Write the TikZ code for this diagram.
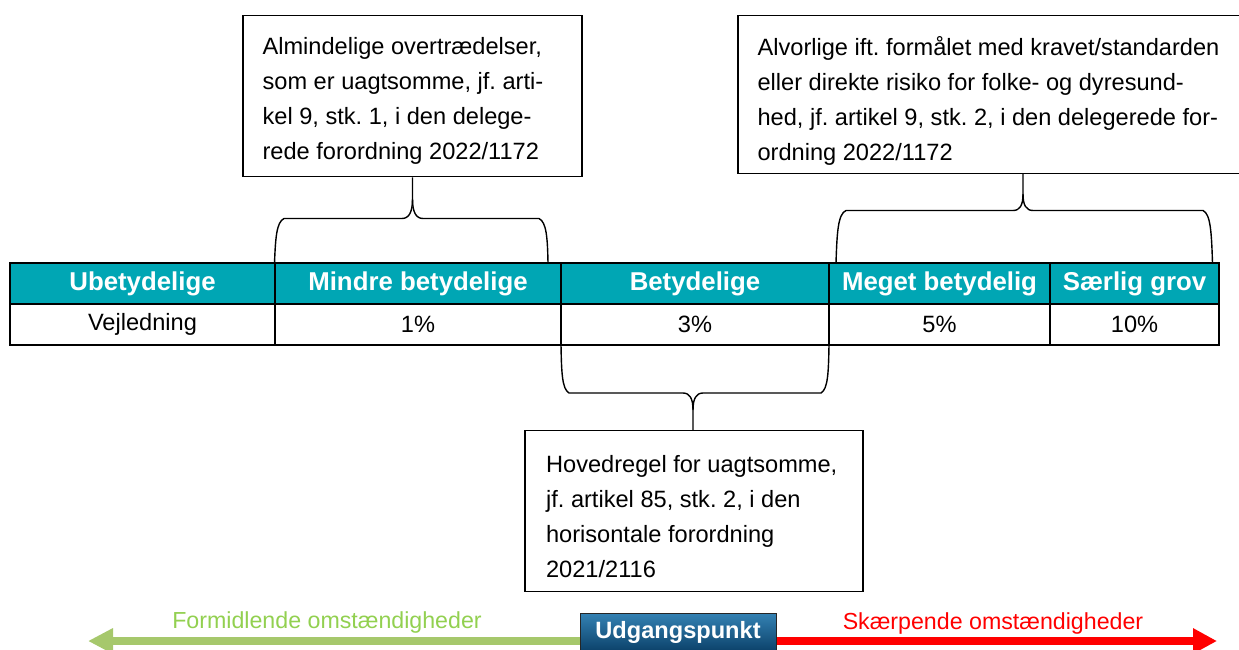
\documentclass[tikz,border=0pt]{standalone}
\usepackage{fontspec}
\setmainfont{Liberation Sans}
\usetikzlibrary{arrows.meta,calc}
\definecolor{tealhdr}{RGB}{0,166,180}
\definecolor{txtgreen}{RGB}{146,208,80}
\definecolor{arrgreen}{RGB}{166,200,108}
\definecolor{arrred}{RGB}{255,0,0}
\definecolor{btntop}{RGB}{52,130,180}
\definecolor{btnbot}{RGB}{12,66,106}
\frenchspacing
\begin{document}
\begin{tikzpicture}[x=1pt,y=-1pt,
  hdr/.style={draw=black, line width=2pt, fill=tealhdr, text=white,
    font=\bfseries\fontsize{25.8}{28}\selectfont, minimum height=41pt, inner sep=0pt},
  cellbox/.style={draw=black, line width=2pt, fill=white,
    font=\fontsize{23.6}{26}\selectfont, minimum height=41pt, inner sep=0pt},
  notebox/.style={draw=black, line width=1.2pt, fill=white, inner sep=0pt},
  notetext/.style={font=\fontsize{23.6}{35}\selectfont, align=left, inner sep=0pt, anchor=west},
  bracestyle/.style={draw=black, line width=1.4pt},
  greenarrow/.style={draw=arrgreen, line width=8pt, -{Triangle[length=25pt,width=24pt]}},
  redarrow/.style={draw=arrred, line width=8pt, -{Triangle[length=24pt,width=24pt]}},
  button/.style={draw=black!85, line width=1pt, top color=btntop, bottom color=btnbot,
    text=white, font=\bfseries\fontsize{23.6}{26}\selectfont, inner sep=0pt,
    minimum width=196pt, minimum height=38pt},
  sidelabel/.style={font=\fontsize{23.2}{26}\selectfont, inner sep=0pt}
]
\useasboundingbox (0,0) rectangle (1239,649);

% ---------- note boxes ----------
\node[notebox, minimum width=339pt, minimum height=161pt] (b1) at (412.5,96.3) {};
\node[notetext] (b1t) at ($(b1.west)+(20,5)$) {Almindelige overtrædelser,\\som er uagtsomme, jf. arti-\\kel 9, stk. 1, i den delege-\\rede forordning 2022/1172};

\node[notebox, minimum width=503pt, minimum height=157.6pt] (b2) at (989.5,94.5) {};
\node[notetext] (b2t) at ($(b2.west)+(20,6)$) {Alvorlige ift. formålet med kravet/standarden\\eller direkte risiko for folke- og dyresund-\\hed, jf. artikel 9, stk. 2, i den delegerede for-\\ordning 2022/1172};

\node[notebox, minimum width=338pt, minimum height=161pt] (b3) at (694,511.3) {};
\node[notetext] (b3t) at ($(b3.west)+(21.5,5.5)$) {Hovedregel for uagtsomme,\\jf. artikel 85, stk. 2, i den\\horisontale forordning\\2021/2116};

% ---------- brace end points ----------
\coordinate (l1) at (274.5,263);
\coordinate (r1) at (548,263);
\coordinate (t1) at (412.5,199);
\coordinate (l2) at (836,263);
\coordinate (r2) at (1212.5,263);
\coordinate (t2) at (1023,194);
\coordinate (l3) at (561,345);
\coordinate (r3) at (829,345);
\coordinate (t3) at (693,410);

% left upper brace
\draw[bracestyle] (l1) .. controls (275.5,238) and (276.5,222) .. (284,218.5)
  -- (402,218.5) .. controls (409,218.5) and (412.5,212) .. (t1) -- (t1 |- b1.south);
\draw[bracestyle] (r1) .. controls (547.5,238) and (546.5,222) .. (539,218.5)
  -- (423,218.5) .. controls (416,218.5) and (412.5,212) .. (t1);

% right upper brace
\draw[bracestyle] (l2) .. controls (837,232) and (838,214) .. (846,210.5)
  -- (1013,210.5) .. controls (1020,210.5) and (1023,205) .. (t2) -- (t2 |- b2.south);
\draw[bracestyle] (r2) .. controls (1211.5,232) and (1210.5,214) .. (1203,210.5)
  -- (1033,210.5) .. controls (1026,210.5) and (1023,205) .. (t2);

% lower brace
\draw[bracestyle] (l3) .. controls (561.5,372) and (562,389) .. (569,393)
  -- (683,393) .. controls (690,393) and (693,399) .. (t3) -- (t3 |- b3.north);
\draw[bracestyle] (r3) .. controls (828.5,372) and (828,389) .. (821,393)
  -- (703,393) .. controls (696,393) and (693,399) .. (t3);

% ---------- table ----------
\node[cellbox, minimum width=265pt] (d1) at (142.5,324.5) {Vejledning};
\node[cellbox, minimum width=286pt] (d2) at (418,324.5) {1\%};
\node[cellbox, minimum width=268pt] (d3) at (695,324.5) {3\%};
\node[cellbox, minimum width=221pt] (d4) at (939.5,324.5) {5\%};
\node[cellbox, minimum width=169pt] (d5) at (1134.5,324.5) {10\%};

\node[hdr, minimum width=265pt] (h1) at (142.5,283.5) {Ubetydelige};
\node[hdr, minimum width=286pt] (h2) at (418,283.5) {Mindre betydelige};
\node[hdr, minimum width=268pt] (h3) at (695,283.5) {Betydelige};
\node[hdr, minimum width=221pt] (h4) at (939.5,283.5) {Meget betydelig};
\node[hdr, minimum width=169pt] (h5) at (1134.5,283.5) {Særlig grov};

% ---------- bottom arrows ----------
\node[button] (btn) at (678,632) {};
\coordinate (gtip) at (88,641);
\coordinate (rtip) at (1217,641);
\draw[greenarrow] (btn.west |- gtip) -- (gtip);
\draw[redarrow] (btn.east |- rtip) -- (rtip);
\node[button] (btnfront) at (btn) {Udgangspunkt};

\node[sidelabel, text=txtgreen] (fl) at (327,622) {Formidlende omstændigheder};
\node[sidelabel, text=arrred] (sl) at (993,623) {Skærpende omstændigheder};
\end{tikzpicture}
\end{document}
